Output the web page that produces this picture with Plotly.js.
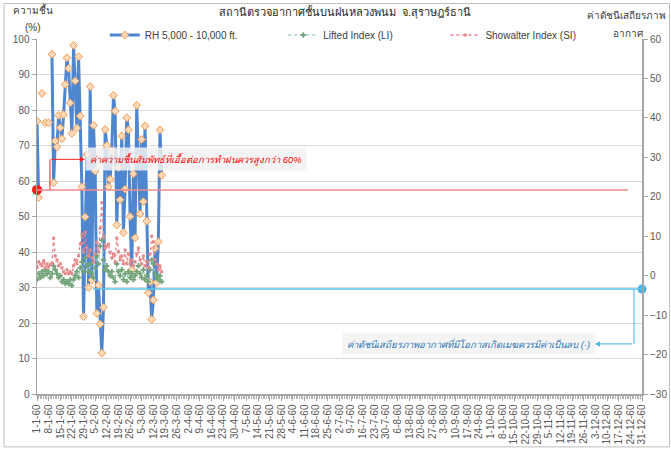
<!DOCTYPE html>
<html>
<head>
<meta charset="utf-8">
<script src="https://cdn.plot.ly/plotly-3.0.1.min.js"></script>
<style>html,body{margin:0;padding:0;background:#fff;}#chart{width:671px;height:453px;}</style>
</head>
<body>
<div id="chart"></div>
<script>
// ---- Data ----
const monthDays = [31,28,31,30,31,30,31,31,30,31,30,31];
const yearSuffix = "60";
const dates = [];
monthDays.forEach((n, m) => { for (let d = 1; d <= n; d++) dates.push(d + "-" + (m + 1) + "-" + yearSuffix); });

// RH 5,000 - 10,000 ft. (%) from 1-1-60, daily (null = missing)
const rh = [76.9,55.3,null,84.7,null,76.4,null,76.4,null,95.7,
            59.5,71.3,69.6,78.5,75.0,71.9,78.7,87.2,94.7,91.7,
            82.0,73.4,98.2,88.2,74.9,95.0,78.3,58.4,21.8,49.9,
            67.5,30.0,86.6,32.1,75.7,62.8,22.7,30.7,19.7,11.5,
            24.4,74.5,70.0,58.4,60.5,68.5,84.1,79.7,47.6,63.8,
            54.7,72.7,45.5,57.7,77.8,74.4,50.0,35.0,62.0,44.0,
            81.3,66.6,50.7,71.7,54.2,75.5,48.7,28.5,31.6,21.0,
            26.5,41.0,31.4,42.9,74.4,61.6];
// Lifted Index (LI)
const li = [-1.0,0.5,-0.5,1.0,0.0,1.5,0.5,1.0,-0.5,0.5,
            2.5,1.5,0.5,-0.5,0.0,-1.5,-1.0,-2.0,-1.5,-2.0,
            -1.0,-2.5,-1.0,0.0,1.0,-0.5,2.0,3.5,1.0,4.5,
            2.5,1.0,3.0,0.5,-0.5,2.0,5.0,3.0,7.5,9.0,
            4.0,1.5,2.5,1.0,0.0,1.0,-0.5,-1.5,3.0,1.0,
            0.0,1.5,-1.0,0.5,-1.5,1.0,-0.5,0.5,-1.0,0.0,
            1.0,2.5,0.5,-0.5,1.5,-1.0,0.0,-1.5,1.5,4.0,
            3.0,0.5,-0.5,-1.0,0.0,-1.5];
// Showalter Index (SI)
const si = [2.0,3.5,3.0,2.5,3.8,2.0,3.0,2.2,2.8,3.2,
            9.5,5.0,4.0,2.5,3.0,2.0,1.0,0.5,1.5,0.5,
            1.0,0.5,2.5,4.0,3.0,5.0,8.0,10.5,6.0,11.0,
            7.0,5.0,6.5,4.5,3.5,5.5,8.5,6.0,12.0,18.5,
            10.0,7.0,7.5,8.0,6.0,4.5,5.5,3.5,9.5,6.0,
            4.0,5.0,3.0,6.5,3.0,5.5,3.0,4.0,2.5,3.5,
            5.5,7.0,4.0,3.0,5.0,2.5,3.5,2.0,5.5,10.0,
            8.5,4.0,3.0,1.5,2.5,1.0];
const rhThreshold = 57.5;   // red reference line (%)
const indexThreshold = -3.4; // cyan reference line (index)

const seriesNames = ["RH 5,000 - 10,000 ft.", "Lifted Index (LI)", "Showalter Index (SI)"];
const titleText = "สถานีตรวจอากาศชั้นบนฝนหลวงพนม  จ.สุราษฎร์ธานี";
const leftTitle = ["ความชื้น", "(%)"];
const rightTitle = ["ค่าดัชนีเสถียรภาพ", "อากาศ"];
const noteRH = "ค่าความชื้นสัมพัทธ์ที่เอื้อต่อการทำฝนควรสูงกว่า 60%";
const noteIdx = "ค่าดัชนีเสถียรภาพอากาศที่มีโอกาสเกิดเมฆควรมีค่าเป็นลบ (-)";

// ---- Build ----
const xIdx = dates.map((_, i) => i);
const tickVals = xIdx.filter(i => i % 7 === 0 || i === dates.length - 1);
const tickText = tickVals.map(i => dates[i]);
const FONT = "'Liberation Sans', Arial, sans-serif";
const last = dates.length - 1;

const traces = [
  {x: xIdx.slice(0, rh.length), y: rh, name: seriesNames[0], type: "scatter", mode: "lines+markers", legend: "legend",
   line: {color: "#4f86d0", width: 3}, connectgaps: false,
   marker: {symbol: "diamond", size: 6, color: "#fcd9b8", line: {color: "#f39a52", width: 1}}},
  {x: xIdx.slice(0, li.length), y: li, name: seriesNames[1], type: "scatter", mode: "lines+markers", yaxis: "y2", legend: "legend2",
   line: {color: "#9fd0c8", width: 1.3, dash: "dot"},
   marker: {symbol: "cross", size: 4.5, color: "#72a377"}},
  {x: xIdx.slice(0, si.length), y: si, name: seriesNames[2], type: "scatter", mode: "lines+markers", yaxis: "y2", legend: "legend3",
   line: {color: "#ee8088", width: 1.3, dash: "dot"},
   marker: {symbol: "square", size: 3, color: "#e2898b"}},
  {x: [0], y: [rhThreshold], type: "scatter", mode: "markers", showlegend: false, cliponaxis: false,
   marker: {size: 10, color: "#ff1a1a"}, hoverinfo: "skip"},
  {x: [last], y: [indexThreshold], yaxis: "y2", type: "scatter", mode: "markers", showlegend: false, cliponaxis: false,
   marker: {size: 9, color: "#3bb3e8"}, hoverinfo: "skip"}
];

const legendBase = {orientation: "h", xanchor: "left", y: 1.0113, yanchor: "middle",
                    font: {family: FONT, size: 10, color: "#404040"}, bgcolor: "rgba(0,0,0,0)", itemwidth: 30};

const layout = {
  width: 671, height: 453,
  margin: {l: 37, r: 29, t: 39, b: 59},
  paper_bgcolor: "#ffffff", plot_bgcolor: "#ffffff",
  font: {family: FONT, color: "#595959", size: 10},
  title: {text: titleText, x: 0.514, xref: "container", y: 0.9735, yref: "container", yanchor: "middle",
          font: {family: FONT, size: 11, color: "#262626"}},
  showlegend: true,
  legend: Object.assign({x: 0.112}, legendBase),
  legend2: Object.assign({x: 0.407}, legendBase),
  legend3: Object.assign({x: 0.675}, legendBase),
  xaxis: {type: "linear", range: [0, last], tickmode: "array", tickvals: tickVals, ticktext: tickText,
          tickangle: -90, tickfont: {size: 10, color: "#595959"}, showgrid: false, zeroline: false,
          showline: true, linecolor: "#a6a6a6", linewidth: 1.5, ticks: "outside", ticklen: 5, tickcolor: "#a6a6a6",
          minor: {dtick: 1, ticks: "outside", ticklen: 3, tickcolor: "#b0b0b0", showgrid: false}},
  yaxis: {range: [0, 100], dtick: 10, showgrid: true, gridcolor: "#d9d9d9", gridwidth: 1, zeroline: false,
          showline: true, linecolor: "#a6a6a6", linewidth: 1.5, ticks: "outside", ticklen: 4, tickcolor: "#a6a6a6",
          tickfont: {size: 10, color: "#595959"}},
  yaxis2: {range: [-30, 60], dtick: 10, overlaying: "y", side: "right", showgrid: false, zeroline: false,
           showline: true, linecolor: "#a6a6a6", linewidth: 2, ticks: "outside", ticklen: 4, tickcolor: "#a6a6a6",
           tickfont: {size: 10, color: "#595959"}},
  shapes: [
    {type: "rect", xref: "paper", yref: "paper", x0: -0.0545, x1: 1.0455, y0: -0.149, y1: 1.1, line: {color: "#bfbfbf", width: 1}},
    {type: "line", xref: "x", yref: "y", x0: 0, x1: 355.6, y0: rhThreshold, y1: rhThreshold, line: {color: "#f08c8c", width: 1.5}},
    {type: "line", xref: "x", yref: "y", x0: 7.8, x1: 7.8, y0: rhThreshold, y1: 66.1, line: {color: "#ff2020", width: 1}},
    {type: "line", xref: "x", yref: "y2", x0: 33.7, x1: last, y0: indexThreshold, y1: indexThreshold, line: {color: "#5cc3ea", width: 1.5}},
    {type: "line", xref: "x", yref: "y2", x0: 359.2, x1: 359.2, y0: indexThreshold, y1: -17.3, line: {color: "#3bb3e8", width: 1}}
  ],
  annotations: [
    {xref: "paper", yref: "paper", x: -0.0066, y: 1.0817, text: leftTitle[0], showarrow: false, xanchor: "center", yanchor: "middle",
     font: {family: FONT, size: 10, color: "#404040"}},
    {xref: "paper", yref: "paper", x: -0.0066, y: 1.0338, text: leftTitle[1], showarrow: false, xanchor: "center", yanchor: "middle",
     font: {family: FONT, size: 10, color: "#404040"}},
    {xref: "paper", yref: "paper", x: 0.975, y: 1.0676, text: rightTitle[0], showarrow: false, xanchor: "center", yanchor: "middle",
     font: {family: FONT, size: 10, color: "#404040"}},
    {xref: "paper", yref: "paper", x: 0.977, y: 1.0169, text: rightTitle[1], showarrow: false, xanchor: "center", yanchor: "middle",
     font: {family: FONT, size: 10, color: "#404040"}},
    {xref: "x", yref: "y", x: 28.9, y: 66.1, ax: 7.8, ay: 66.1, axref: "x", ayref: "y", text: "", showarrow: true,
     arrowhead: 2, arrowsize: 1, arrowwidth: 1, arrowcolor: "#ff2020"},
    {xref: "x", yref: "y", x: 28.9, y: 66.1, text: "<i>" + noteRH + "</i>", showarrow: false, xanchor: "left", yanchor: "middle",
     bgcolor: "rgba(242,242,242,0.85)", borderpad: 4, font: {family: FONT, size: 9.5, color: "#ff0000"}},
    {xref: "x", yref: "y2", x: 335.7, y: -17.3, ax: 359.2, ay: -17.3, axref: "x", ayref: "y2", text: "", showarrow: true,
     arrowhead: 2, arrowsize: 1, arrowwidth: 1, arrowcolor: "#3bb3e8"},
    {xref: "x", yref: "y2", x: 335.7, y: -17.3, text: "<i>" + noteIdx + "</i>", showarrow: false, xanchor: "right", yanchor: "middle",
     bgcolor: "rgba(242,242,242,0.85)", borderpad: 4, font: {family: FONT, size: 9.5, color: "#2e75b6"}}
  ]
};

Plotly.newPlot("chart", traces, layout, {displayModeBar: false, staticPlot: true});
</script>
</body>
</html>
